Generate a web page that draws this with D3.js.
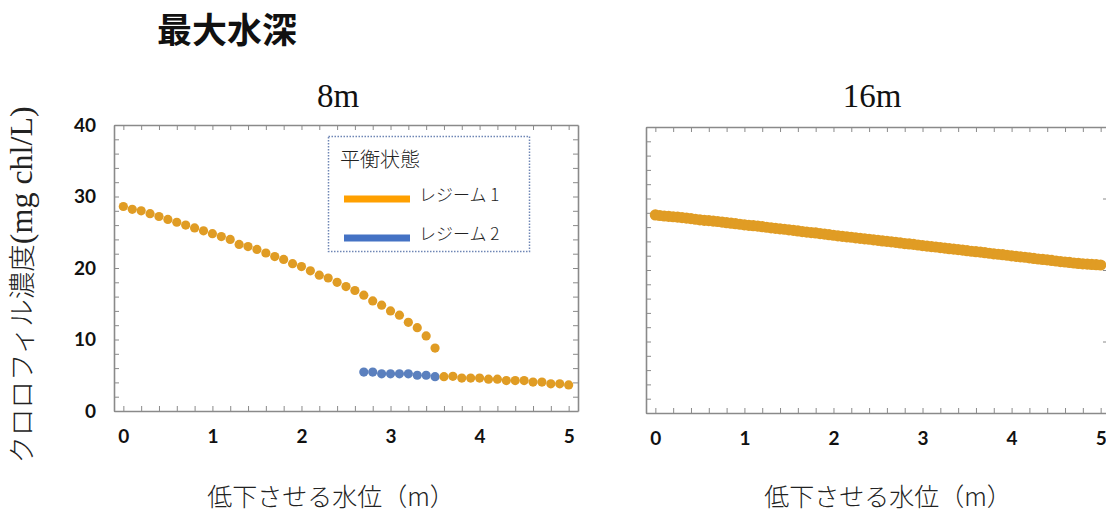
<!DOCTYPE html>
<html><head><meta charset="utf-8">
<script src="https://cdn.jsdelivr.net/npm/d3@7"></script>
<style>
body{margin:0;background:#fff;}
svg{display:block;}
</style></head>
<body>
<svg id="chart" width="1106" height="513"></svg>
<script>
// ---------- data ----------
const chartTitle = "最大水深";
const panelTitles = ["8m", "16m"];
const yAxisLabelJa = "クロロフィル濃度";
const yAxisLabelEn = "(mg chl/L)";
const xAxisLabel = "低下させる水位（m）";
const legendTitle = "平衡状態";
const seriesNames = ["レジーム 1", "レジーム 2"];
const xTickLabels = [0, 1, 2, 3, 4, 5];
const yTickLabels = [0, 10, 20, 30, 40];

// 8m panel, regime 1 (upper branch)
const x8Upper = [0,0.1,0.2,0.3,0.4,0.5,0.6,0.7,0.8,0.9,1.0,1.1,1.2,1.3,1.4,1.5,1.6,1.7,1.8,1.9,2.0,2.1,2.2,2.3,2.4,2.5,2.6,2.7,2.8,2.9,3.0,3.1,3.2,3.3,3.4,3.5];
const y8Upper = [28.6,28.2,28.0,27.6,27.2,26.8,26.4,26.0,25.6,25.2,24.8,24.4,24.0,23.3,23.0,22.6,22.1,21.6,21.2,20.6,20.2,19.6,19.0,18.6,18.0,17.4,16.85,16.2,15.4,14.8,14.0,13.4,12.4,11.65,10.5,8.8];
// 8m panel, regime 2
const x8Regime2 = [2.7,2.8,2.9,3.0,3.1,3.2,3.3,3.4,3.5];
const y8Regime2 = [5.45,5.45,5.2,5.2,5.2,5.2,5.0,5.0,4.8];
// 8m panel, regime 1 (lower branch)
const x8Lower = [3.6,3.7,3.8,3.9,4.0,4.1,4.2,4.3,4.4,4.5,4.6,4.7,4.8,4.9,5.0];
const y8Lower = [4.8,4.85,4.6,4.6,4.6,4.45,4.45,4.25,4.25,4.25,4.05,4.05,3.8,3.8,3.65];
// 16m panel, regime 1 (x from 0 to 5 in 0.05 steps)
const y16 = [27.70,27.62,27.55,27.50,27.45,27.40,27.32,27.25,27.18,27.10,
             27.02,26.95,26.90,26.84,26.78,26.70,26.62,26.55,26.48,26.40,
             26.32,26.25,26.20,26.14,26.06,25.98,25.90,25.82,25.76,25.70,
             25.62,25.54,25.46,25.38,25.30,25.24,25.18,25.10,25.02,24.94,
             24.86,24.78,24.70,24.64,24.58,24.50,24.42,24.36,24.30,24.22,
             24.14,24.06,24.00,23.94,23.86,23.78,23.70,23.64,23.58,23.50,
             23.42,23.34,23.28,23.22,23.14,23.06,22.98,22.92,22.86,22.78,
             22.70,22.62,22.56,22.50,22.42,22.34,22.26,22.20,22.14,22.06,
             21.98,21.90,21.84,21.78,21.70,21.62,21.54,21.48,21.42,21.34,
             21.26,21.18,21.12,21.06,20.98,20.92,20.86,20.82,20.78,20.74,20.70];
const x16 = y16.map((_, i) => i * 0.05);

// ---------- styles ----------
const dotOrange = "#e09c24";
const dotBlue = "#5b80be";
const legOrange = "#ffa000";
const legBlue = "#4472c4";
const frameColor = "#8a8a8a";
const cjk = "'Noto Sans CJK JP', sans-serif";
const serif = "'Liberation Serif', 'DejaVu Serif', serif";
const tickFont = "Lato, 'Open Sans', sans-serif";

const svg = d3.select("#chart");

svg.append("text").attr("x", 157).attr("y", 43)
  .attr("font-family", cjk).attr("font-weight", 700).attr("font-size", 35)
  .attr("fill", "#111").text(chartTitle);

function panel(cfg) {
  const g = svg.append("g");
  const x = d3.scaleLinear().domain([-0.105, 5.105]).range([cfg.left, cfg.right]);
  const y = d3.scaleLinear().domain([0, 40]).range([cfg.bottom, cfg.top]);
  const minorX = d3.range(0, 5.0001, 0.2);
  const minorY = d3.range(0, 40.0001, 2);

  const mk = (ax) => ax.tickSizeInner(-5).tickSizeOuter(0).tickFormat("");
  const axB = g.append("g").attr("transform", `translate(0,${cfg.bottom})`).call(mk(d3.axisBottom(x).tickValues(minorX)));
  const axT = g.append("g").attr("transform", `translate(0,${cfg.top})`).call(mk(d3.axisTop(x).tickValues(minorX)));
  const axL = g.append("g").attr("transform", `translate(${cfg.left},0)`).call(mk(d3.axisLeft(y).tickValues(minorY)));
  const axR = g.append("g").attr("transform", `translate(${cfg.right},0)`).call(mk(d3.axisRight(y).tickValues(cfg.rightMajorOnly ? yTickLabels : minorY)).tickSizeInner(cfg.rightMajorOnly ? -7 : -5));
  [axB, axT, axL, axR].forEach(a => {
    a.selectAll("path.domain").attr("stroke", frameColor).attr("stroke-width", 1.6);
    a.selectAll(".tick line").attr("stroke", frameColor).attr("stroke-width", 1);
  });

  // tick labels
  const xl = g.append("g").attr("transform", `translate(0,${cfg.bottom + 26})`)
    .call(d3.axisBottom(x).tickValues(xTickLabels).tickSize(0).tickFormat(d3.format("d")));
  xl.select("path.domain").remove();
  xl.selectAll("text").attr("font-family", tickFont).attr("font-weight", 700)
    .attr("font-size", 19).attr("fill", "#111").attr("dy", "0.32em").attr("y", 0);

  if (cfg.yLabels) {
    const yl = g.append("g").attr("transform", `translate(${cfg.left - 18},0)`)
      .call(d3.axisLeft(y).tickValues(yTickLabels).tickSize(0).tickPadding(0).tickFormat(d3.format("d")));
    yl.select("path.domain").remove();
    yl.selectAll("text").attr("font-family", tickFont).attr("font-weight", 700)
      .attr("font-size", 19).attr("fill", "#111").attr("dy", "0.34em").attr("x", 0);
  }

  // series
  cfg.series.forEach(s => {
    g.append("g").selectAll("circle").data(s.xs.map((v, i) => [v, s.ys[i]])).join("circle")
      .attr("cx", d => x(d[0])).attr("cy", d => y(d[1])).attr("r", s.r).attr("fill", s.color);
  });

  // panel title
  svg.append("text").attr("x", cfg.titleX).attr("y", 107).attr("text-anchor", "middle")
    .attr("font-family", serif).attr("font-size", 33).attr("fill", "#111").text(cfg.title);
  // x axis label
  svg.append("text").attr("x", cfg.xLabelX).attr("y", 506).attr("text-anchor", "middle")
    .attr("font-family", cjk).attr("font-size", 25).attr("font-weight", 300).attr("fill", "#222").text(xAxisLabel);
  return {x, y};
}

panel({left: 114, right: 578, top: 125, bottom: 411, yLabels: true, title: panelTitles[0], titleX: 338, xLabelX: 331,
  series: [
    {xs: x8Upper, ys: y8Upper, color: dotOrange, r: 4.6},
    {xs: x8Regime2, ys: y8Regime2, color: dotBlue, r: 4.6},
    {xs: x8Lower, ys: y8Lower, color: dotOrange, r: 4.6}
  ]});

panel({left: 646, right: 1110, top: 127, bottom: 413, yLabels: false, rightMajorOnly: true, title: panelTitles[1], titleX: 872, xLabelX: 888,
  series: [
    {xs: x16, ys: y16, color: dotOrange, r: 5.6}
  ]});

// y axis label
const yl = svg.append("text").attr("transform", "translate(32,285) rotate(-90)")
  .attr("text-anchor", "middle").attr("fill", "#222");
yl.append("tspan").attr("font-family", cjk).attr("font-size", 27.5).attr("font-weight", 300).text(yAxisLabelJa);
yl.append("tspan").attr("font-family", serif).attr("font-size", 32).text(yAxisLabelEn);

// legend
const lg = svg.append("g");
lg.append("rect").attr("x", 328.5).attr("y", 136.5).attr("width", 201).attr("height", 115)
  .attr("fill", "#fff").attr("stroke", "#6f86b5").attr("stroke-width", 1.5).attr("stroke-dasharray", "1.5,1.5");
lg.append("text").attr("x", 340).attr("y", 167).attr("font-family", cjk).attr("font-size", 20)
  .attr("font-weight", 300).attr("fill", "#222").text(legendTitle);
[legOrange, legBlue].forEach((c, i) => {
  const yy = 199 + i * 39;
  lg.append("line").attr("x1", 344).attr("x2", 410).attr("y1", yy).attr("y2", yy)
    .attr("stroke", c).attr("stroke-width", 7);
  lg.append("text").attr("x", 419).attr("y", yy - 4).attr("dy", "0.35em").attr("font-family", cjk)
    .attr("font-size", 17).attr("font-weight", 300).attr("fill", "#222").text(seriesNames[i]);
});
</script>
</body></html>
